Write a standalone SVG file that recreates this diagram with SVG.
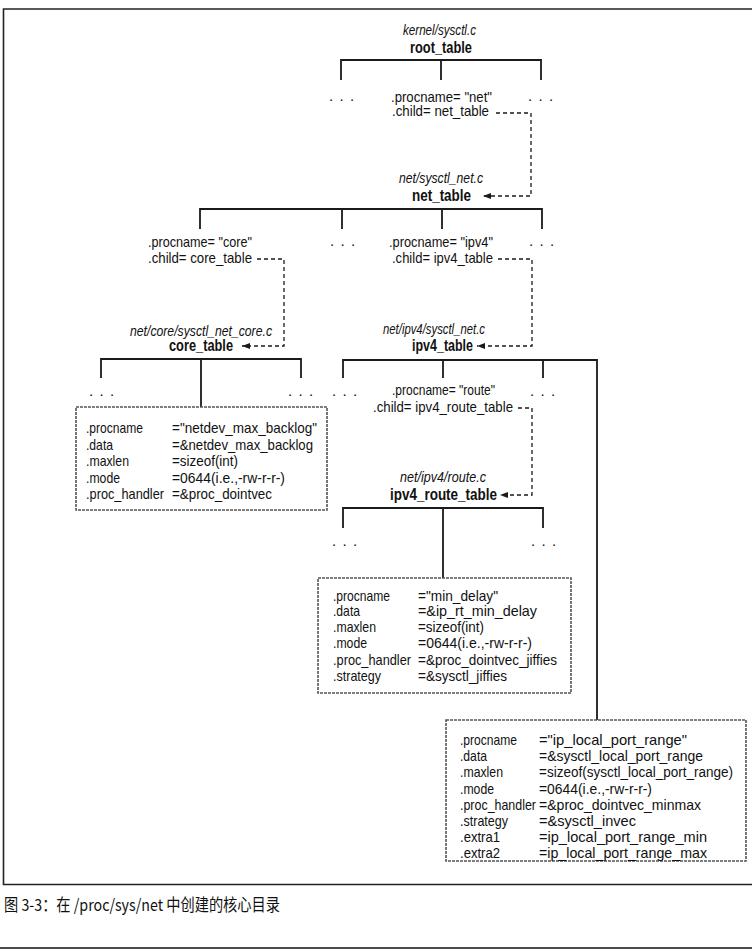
<svg xmlns="http://www.w3.org/2000/svg" width="752" height="951" viewBox="0 0 752 951">
  <defs>
    <style>
      .t { font-family: "Liberation Sans", Arial, sans-serif; font-size: 14.5px; fill: #111; }
      .file { font-style: italic; font-size: 14.5px; }
      .name { font-weight: bold; font-size: 16px; }
      .dots { letter-spacing: 6.3px; font-size: 15px; }
      .small { font-size: 13.8px; }
      .frame { fill: none; stroke: #222; stroke-width: 1.6; }
      .tree { fill: none; stroke: #1a1a1a; stroke-width: 1.8; }
      .link { fill: none; stroke: #1a1a1a; stroke-width: 1.3; stroke-dasharray: 4 3; }
      .box { fill: #fff; stroke: #555; stroke-width: 1.6; stroke-dasharray: 3 1; }
      .cap { font-family: "Noto Sans CJK SC", "Noto Sans", sans-serif; font-size: 16.5px; fill: #111; }
    </style>
    <marker id="arrow" viewBox="0 0 8 6" refX="8" refY="3" markerWidth="8" markerHeight="6" markerUnits="userSpaceOnUse" orient="auto">
      <path d="M0,0 L8,3 L0,6 z" fill="#1a1a1a"/>
    </marker>
  </defs>

  <rect width="752" height="951" fill="#fff"/>

  <!-- outer frame and caption rule -->
  <path class="frame" d="M752,9 H3.5 V884.5 H752"/>
  <line x1="0" y1="948" x2="752" y2="948" stroke="#111" stroke-width="1.6"/>

  <!-- connectors -->
  <g id="connectors">
    <path class="tree" d="M341,80 V60 H541 V80 M441,60 V80"/>
    <path class="tree" d="M200,229 V209 H542 V229 M342,209 V229 M442,209 V229"/>
    <path class="tree" d="M101,378 V359 H301 V378 M201,359 V407"/>
    <path class="tree" d="M343,378 V360 H597 V720 M443,360 V378 M543,360 V378"/>
    <path class="tree" d="M343,528 V508 H543 V528 M443,508 V578"/>
    <path class="link" d="M496,113 H531 V196 H483" marker-end="url(#arrow)"/>
    <path class="link" d="M257,259 H284 V346 H242" marker-end="url(#arrow)"/>
    <path class="link" d="M498,259 H532 V346 H477" marker-end="url(#arrow)"/>
    <path class="link" d="M518,408 H532 V495 H500" marker-end="url(#arrow)"/>
  </g>

  <!-- root_table -->
  <g id="root_table">
    <text class="t file" x="403" y="35" textLength="73" lengthAdjust="spacingAndGlyphs">kernel/sysctl.c</text>
    <text class="t name" x="410" y="53" textLength="62" lengthAdjust="spacingAndGlyphs">root_table</text>
    <text class="t dots" x="329" y="101">...</text>
    <text class="t" x="391" y="102" textLength="101" lengthAdjust="spacingAndGlyphs">.procname= "net"</text>
    <text class="t" x="392" y="116" textLength="97" lengthAdjust="spacingAndGlyphs">.child= net_table</text>
    <text class="t dots" x="528" y="101">...</text>
  </g>

  <!-- net_table -->
  <g id="net_table">
    <text class="t file" x="399" y="183" textLength="84" lengthAdjust="spacingAndGlyphs">net/sysctl_net.c</text>
    <text class="t name" x="412" y="201" textLength="59" lengthAdjust="spacingAndGlyphs">net_table</text>
    <text class="t" x="148" y="247" textLength="104" lengthAdjust="spacingAndGlyphs">.procname= "core"</text>
    <text class="t" x="148" y="263" textLength="104" lengthAdjust="spacingAndGlyphs">.child= core_table</text>
    <text class="t dots" x="330" y="246">...</text>
    <text class="t" x="389" y="247" textLength="104" lengthAdjust="spacingAndGlyphs">.procname= "ipv4"</text>
    <text class="t" x="392" y="263" textLength="101" lengthAdjust="spacingAndGlyphs">.child= ipv4_table</text>
    <text class="t dots" x="529" y="246">...</text>
  </g>

  <!-- core_table -->
  <g id="core_table">
    <text class="t file" x="130" y="336" textLength="142" lengthAdjust="spacingAndGlyphs">net/core/sysctl_net_core.c</text>
    <text class="t name" x="169" y="351" textLength="64" lengthAdjust="spacingAndGlyphs">core_table</text>
    <text class="t dots" x="89" y="396">...</text>
    <text class="t dots" x="288" y="396">...</text>
  </g>

  <!-- netdev_max_backlog entry -->
  <g id="netdev_max_backlog">
    <rect class="box" x="76" y="407" width="251" height="103"/>
    <text class="t" x="86" y="433" textLength="57" lengthAdjust="spacingAndGlyphs">.procname</text>
    <text class="t" x="172" y="433" textLength="145" lengthAdjust="spacingAndGlyphs">="netdev_max_backlog"</text>
    <text class="t" x="86" y="449.5" textLength="27" lengthAdjust="spacingAndGlyphs">.data</text>
    <text class="t" x="172" y="449.5" textLength="141" lengthAdjust="spacingAndGlyphs">=&amp;netdev_max_backlog</text>
    <text class="t" x="86" y="466" textLength="43" lengthAdjust="spacingAndGlyphs">.maxlen</text>
    <text class="t" x="172" y="466" textLength="66" lengthAdjust="spacingAndGlyphs">=sizeof(int)</text>
    <text class="t" x="86" y="482.5" textLength="34" lengthAdjust="spacingAndGlyphs">.mode</text>
    <text class="t" x="172" y="482.5" textLength="113" lengthAdjust="spacingAndGlyphs">=0644(i.e.,-rw-r-r-)</text>
    <text class="t" x="86" y="499" textLength="78" lengthAdjust="spacingAndGlyphs">.proc_handler</text>
    <text class="t" x="172" y="499" textLength="100" lengthAdjust="spacingAndGlyphs">=&amp;proc_dointvec</text>
  </g>

  <!-- ipv4_table -->
  <g id="ipv4_table">
    <text class="t file" x="383" y="334" textLength="102" lengthAdjust="spacingAndGlyphs">net/ipv4/sysctl_net.c</text>
    <text class="t name" x="412" y="351" textLength="61" lengthAdjust="spacingAndGlyphs">ipv4_table</text>
    <text class="t dots" x="332" y="396">...</text>
    <text class="t" x="392" y="395" textLength="103" lengthAdjust="spacingAndGlyphs">.procname= "route"</text>
    <text class="t" x="373" y="412" textLength="140" lengthAdjust="spacingAndGlyphs">.child= ipv4_route_table</text>
    <text class="t dots" x="530" y="396">...</text>
  </g>

  <!-- ipv4_route_table -->
  <g id="ipv4_route_table">
    <text class="t file" x="400" y="482" textLength="86" lengthAdjust="spacingAndGlyphs">net/ipv4/route.c</text>
    <text class="t name" x="390" y="500" textLength="107" lengthAdjust="spacingAndGlyphs">ipv4_route_table</text>
    <text class="t dots" x="332" y="546">...</text>
    <text class="t dots" x="531" y="546">...</text>
  </g>

  <!-- min_delay entry -->
  <g id="min_delay">
    <rect class="box" x="318" y="578" width="253" height="115"/>
    <text class="t" x="333" y="601" textLength="57" lengthAdjust="spacingAndGlyphs">.procname</text>
    <text class="t" x="418" y="601" textLength="80" lengthAdjust="spacingAndGlyphs">="min_delay"</text>
    <text class="t" x="333" y="616" textLength="27" lengthAdjust="spacingAndGlyphs">.data</text>
    <text class="t" x="418" y="616" textLength="119" lengthAdjust="spacingAndGlyphs">=&amp;ip_rt_min_delay</text>
    <text class="t" x="333" y="632" textLength="43" lengthAdjust="spacingAndGlyphs">.maxlen</text>
    <text class="t" x="418" y="632" textLength="66" lengthAdjust="spacingAndGlyphs">=sizeof(int)</text>
    <text class="t" x="333" y="648" textLength="34" lengthAdjust="spacingAndGlyphs">.mode</text>
    <text class="t" x="418" y="648" textLength="114" lengthAdjust="spacingAndGlyphs">=0644(i.e.,-rw-r-r-)</text>
    <text class="t" x="333" y="665" textLength="78" lengthAdjust="spacingAndGlyphs">.proc_handler</text>
    <text class="t" x="418" y="665" textLength="139" lengthAdjust="spacingAndGlyphs">=&amp;proc_dointvec_jiffies</text>
    <text class="t" x="333" y="681" textLength="48" lengthAdjust="spacingAndGlyphs">.strategy</text>
    <text class="t" x="418" y="681" textLength="89" lengthAdjust="spacingAndGlyphs">=&amp;sysctl_jiffies</text>
  </g>

  <!-- ip_local_port_range entry -->
  <g id="ip_local_port_range">
    <rect class="box" x="446" y="720" width="300" height="141"/>
    <text class="t" x="460" y="745" textLength="57" lengthAdjust="spacingAndGlyphs">.procname</text>
    <text class="t" x="539" y="745" textLength="148" lengthAdjust="spacingAndGlyphs">="ip_local_port_range"</text>
    <text class="t" x="460" y="761" textLength="27" lengthAdjust="spacingAndGlyphs">.data</text>
    <text class="t" x="539" y="761" textLength="164" lengthAdjust="spacingAndGlyphs">=&amp;sysctl_local_port_range</text>
    <text class="t" x="460" y="777" textLength="43" lengthAdjust="spacingAndGlyphs">.maxlen</text>
    <text class="t small" x="539" y="777" textLength="194" lengthAdjust="spacingAndGlyphs">=sizeof(sysctl_local_port_range)</text>
    <text class="t" x="460" y="794" textLength="34" lengthAdjust="spacingAndGlyphs">.mode</text>
    <text class="t" x="539" y="794" textLength="113" lengthAdjust="spacingAndGlyphs">=0644(i.e.,-rw-r-r-)</text>
    <text class="t" x="460" y="810" textLength="76" lengthAdjust="spacingAndGlyphs">.proc_handler</text>
    <text class="t" x="539" y="810" textLength="162" lengthAdjust="spacingAndGlyphs">=&amp;proc_dointvec_minmax</text>
    <text class="t" x="460" y="826" textLength="48" lengthAdjust="spacingAndGlyphs">.strategy</text>
    <text class="t" x="539" y="826" textLength="97" lengthAdjust="spacingAndGlyphs">=&amp;sysctl_invec</text>
    <text class="t" x="460" y="842" textLength="40" lengthAdjust="spacingAndGlyphs">.extra1</text>
    <text class="t" x="539" y="842" textLength="168" lengthAdjust="spacingAndGlyphs">=ip_local_port_range_min</text>
    <text class="t" x="460" y="858" textLength="40" lengthAdjust="spacingAndGlyphs">.extra2</text>
    <text class="t" x="539" y="858" textLength="168" lengthAdjust="spacingAndGlyphs">=ip_local_port_range_max</text>
  </g>

  <!-- caption -->
  <text class="cap" x="4" y="911" textLength="276" lengthAdjust="spacingAndGlyphs">图 3-3：在 /proc/sys/net 中创建的核心目录</text>
</svg>
